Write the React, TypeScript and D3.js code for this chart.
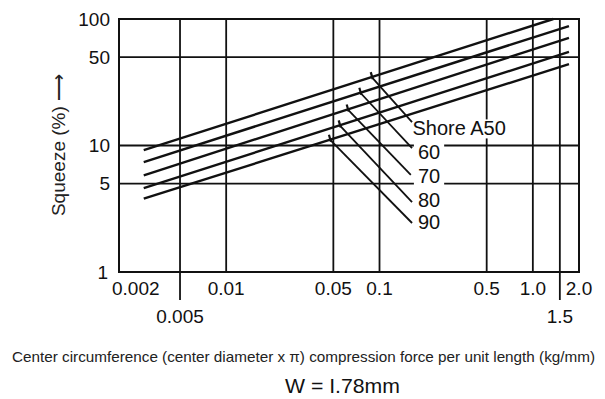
import { useEffect, useRef } from 'react';
import * as d3 from 'd3';

// curves: straight lines on log-log paper, one per hardness
const hardness = ['Shore A50', '60', '70', '80', '90'];
const lineX0 = [0.0029, 0.0029, 0.0029, 0.0029, 0.0029];
const lineY0 = [9.2, 7.4, 5.8, 4.6, 3.8];
const lineX1 = [1.36, 1.72, 1.72, 1.72, 1.72];
const lineY1 = [100, 88, 71, 55, 44];

// leader lines from each curve to its label
const leaderFromX = [0.089, 0.075, 0.062, 0.055, 0.0475];
const leaderToX = [0.163, 0.163, 0.16, 0.163, 0.163];
const leaderToY = [15.3, 9.55, 5.85, 3.57, 2.44];
const labelX = [0.164, 0.178, 0.178, 0.178, 0.178];
const labelY = [13.7, 8.9, 5.74, 3.71, 2.48];

const xGrid = [0.005, 0.01, 0.05, 0.1, 0.5, 1.0, 1.5];
const xExtended = [0.005, 1.5];
const yGrid = [5, 10, 50];
const xTicksTop = ['0.002', '0.01', '0.05', '0.1', '0.5', '1.0', '2.0'];
const xTicksBottom = ['0.005', '1.5'];
const yTicks = ['100', '50', '10', '5', '1'];

const FONT = '"Liberation Sans", Arial, Helvetica, sans-serif';

export default function App() {
  const ref = useRef<SVGSVGElement>(null);

  useEffect(() => {
    if (!ref.current) return;
    const svg = d3.select(ref.current);
    svg.selectAll('*').remove();

    const left = 119, right = 579, top = 19, bottom = 272;
    const x = d3.scaleLog().domain([0.002, 2]).range([left, right]);
    const y = d3.scaleLog().domain([1, 100]).range([bottom, top]);

    // grid
    xGrid.forEach(v => {
      svg.append('line')
        .attr('x1', x(v)).attr('x2', x(v))
        .attr('y1', top).attr('y2', xExtended.includes(v) ? 300 : bottom)
        .attr('stroke', '#111').attr('stroke-width', 1.8);
    });
    yGrid.forEach(v => {
      svg.append('line')
        .attr('x1', left).attr('x2', right)
        .attr('y1', y(v)).attr('y2', y(v))
        .attr('stroke', '#111').attr('stroke-width', 1.8);
    });
    svg.append('rect')
      .attr('x', left).attr('y', top)
      .attr('width', right - left).attr('height', bottom - top)
      .attr('fill', 'none').attr('stroke', '#111').attr('stroke-width', 2);

    // curves
    const lineGen = d3.line<[number, number]>().x(d => x(d[0])).y(d => y(d[1]));
    hardness.forEach((h, i) => {
      svg.append('path')
        .attr('d', lineGen([[lineX0[i], lineY0[i]], [lineX1[i], lineY1[i]]]))
        .attr('fill', 'none').attr('stroke', '#111').attr('stroke-width', 2.4);
    });

    // label backgrounds + labels
    hardness.forEach((h, i) => {
      const t = svg.append('text')
        .attr('x', x(labelX[i])).attr('y', y(labelY[i]))
        .attr('dy', '0.36em')
        .attr('font-family', FONT).attr('font-size', 20)
        .attr('fill', '#111')
        .text(h);
      const bb = (t.node() as SVGTextElement).getBBox();
      svg.insert('rect', 'text')
        .attr('x', bb.x - 4).attr('y', bb.y + 2)
        .attr('width', bb.width + 8).attr('height', bb.height - 3)
        .attr('fill', '#fff');
    });

    // leaders
    hardness.forEach((h, i) => {
      const fx = leaderFromX[i];
      const frac = Math.log(fx / lineX0[i]) / Math.log(lineX1[i] / lineX0[i]);
      const fy = Math.exp(Math.log(lineY0[i]) + frac * Math.log(lineY1[i] / lineY0[i]));
      const x0 = x(fx), y0 = y(fy), x1 = x(leaderToX[i]), y1 = y(leaderToY[i]);
      svg.append('line')
        .attr('x1', x0).attr('y1', y0).attr('x2', x1).attr('y2', y1)
        .attr('stroke', '#111').attr('stroke-width', 1.8);
      svg.append('line')
        .attr('x1', x0 - 1).attr('y1', y0 - 5).attr('x2', x0 + 1).attr('y2', y0 + 2)
        .attr('stroke', '#111').attr('stroke-width', 2.2);
    });

    // x tick labels
    xTicksTop.forEach(s => {
      const v = +s;
      svg.append('text')
        .attr('x', v === 0.002 ? x(v) - 7 : x(v))
        .attr('y', 295)
        .attr('text-anchor', v === 0.002 ? 'start' : 'middle')
        .attr('font-family', FONT).attr('font-size', 19).attr('fill', '#111')
        .text(s);
    });
    xTicksBottom.forEach(s => {
      svg.append('text')
        .attr('x', x(+s)).attr('y', 323)
        .attr('text-anchor', 'middle')
        .attr('font-family', FONT).attr('font-size', 19).attr('fill', '#111')
        .text(s);
    });

    // y tick labels
    yTicks.forEach(s => {
      svg.append('text')
        .attr('x', s === '1' ? 108 : 110).attr('y', y(+s))
        .attr('dy', '0.36em')
        .attr('text-anchor', 'end')
        .attr('font-family', FONT).attr('font-size', 19).attr('fill', '#111')
        .text(s);
    });

    // y title
    svg.append('text')
      .attr('transform', 'translate(65,145) rotate(-90)')
      .attr('text-anchor', 'middle')
      .attr('font-family', FONT).attr('font-size', 19).attr('fill', '#222')
      .text('Squeeze (%) \u27f6');

    // x title
    svg.append('text')
      .attr('x', 12).attr('y', 362)
      .attr('textLength', 583).attr('lengthAdjust', 'spacingAndGlyphs')
      .attr('font-family', FONT).attr('font-size', 14.5).attr('fill', '#222')
      .text('Center circumference (center diameter x \u03c0) compression force per unit length (kg/mm)');

    svg.append('text')
      .attr('x', 285).attr('y', 393)
      .attr('textLength', 115).attr('lengthAdjust', 'spacingAndGlyphs')
      .attr('font-family', FONT).attr('font-size', 21).attr('fill', '#111')
      .text('W = I.78mm');
  }, []);

  return (
    <svg
      ref={ref}
      width={605}
      height={399}
      style={{ position: 'absolute', left: 0, top: 0, background: '#fff' }}
    />
  );
}
